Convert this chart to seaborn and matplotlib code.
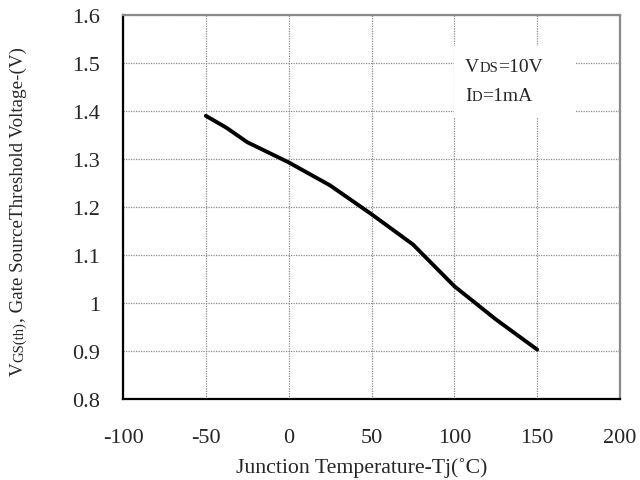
import numpy as np
import pandas as pd
import matplotlib
matplotlib.use("Agg")
import matplotlib.pyplot as plt
from matplotlib.patches import Rectangle
import seaborn as sns

# ---- data ----
temperature_c = [-50, -37.5, -25, 0, 25, 50, 75, 100, 125, 150]
vgs_th = [1.39, 1.365, 1.335, 1.293, 1.245, 1.185, 1.122, 1.035, 0.966, 0.903]
x_ticks = [-100, -50, 0, 50, 100, 150, 200]
y_ticks = [0.8, 0.9, 1.0, 1.1, 1.2, 1.3, 1.4, 1.5, 1.6]
y_tick_labels = ["0.8", "0.9", "1", "1.1", "1.2", "1.3", "1.4", "1.5", "1.6"]

df = pd.DataFrame({"Tj": temperature_c, "Vth": vgs_th})

sns.set_style("white")
plt.rcParams["font.family"] = ["Liberation Serif", "DejaVu Serif"]

fig = plt.figure(figsize=(6.4, 4.81), dpi=100)
ax = fig.add_axes([123 / 640, 1 - 400 / 481, (620 - 123) / 640, (400 - 16) / 481])

sns.lineplot(data=df, x="Tj", y="Vth", ax=ax, color="black", linewidth=2.8, zorder=3)

ax.set_xlim(-100, 200)
ax.set_ylim(0.8, 1.6)
ax.set_xticks(x_ticks)
ax.set_xticklabels([str(t) for t in x_ticks])
ax.set_yticks(y_ticks)
ax.set_yticklabels(y_tick_labels)
ax.tick_params(axis="both", which="both", direction="in", length=4, width=1.5,
               color="black", labelsize=16, top=False, right=False)
ax.tick_params(axis="y", pad=16.5)
ax.tick_params(axis="x", pad=21)

ax.set_axisbelow(True)
ax.grid(True, color="#8a8a8a", linestyle=(0, (1, 1)), linewidth=0.9)

for side in ["left", "bottom"]:
    ax.spines[side].set_color("black")
    ax.spines[side].set_linewidth(1.6)
for side in ["top", "right"]:
    ax.spines[side].set_color("#8a8a8a")
    ax.spines[side].set_linewidth(1.6)

ax.set_xlabel("Junction Temperature-Tj(\u02daC)", fontsize=15.7)
ax.xaxis.set_label_coords((362 - 123) / 497, -(458 - 400) / 384)
ax.set_ylabel("")

# white box behind the condition text
ax.add_patch(Rectangle((100, 1.3875), 73.6, 0.1475, facecolor="white",
                       edgecolor="none", zorder=2))

renderer = fig.canvas.get_renderer()
W, H = 640.0, 481.0

def pieces_h(pieces, x_px, y_px):
    x = x_px
    for s, fs in pieces:
        t = fig.text(x / W, 1 - y_px / H, s, fontsize=fs, ha="left", va="baseline", zorder=4)
        bb = t.get_window_extent(renderer)
        x = bb.x1

pieces_h([("V", 14), ("DS", 10.5), ("=10V", 14)], 465, 72)
pieces_h([("I", 14), ("D", 10.5), ("=1mA", 14)], 465, 101)

# rotated y label made of pieces (subscript on the baseline, smaller)
ylab = [("V", 13.7), ("GS(th)", 10.5), (", Gate SourceThreshold Voltage-(V)", 13.7)]
x_base = 23 / W
y_disp = H - 376.0
for s, fs in ylab:
    t = fig.text(x_base, y_disp / H, s, fontsize=fs, rotation=90,
                 rotation_mode="anchor", ha="left", va="baseline")
    bb = t.get_window_extent(renderer)
    y_disp = bb.y1

fig.savefig("out.png", dpi=100, facecolor="white")
